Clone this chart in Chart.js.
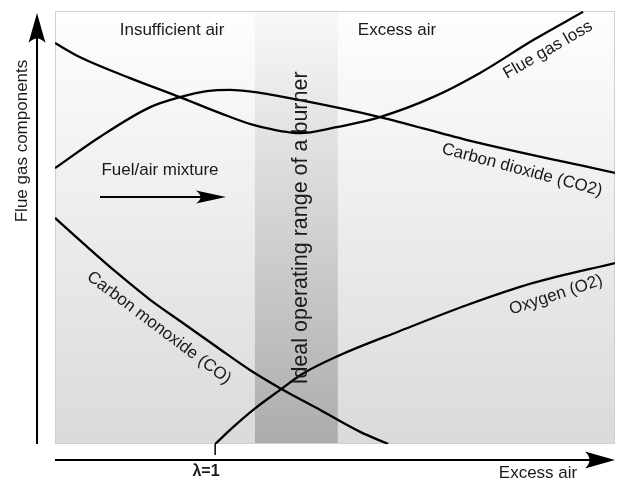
<!DOCTYPE html>
<html>
<head>
<meta charset="utf-8">
<script src="https://cdn.jsdelivr.net/npm/chart.js@4"></script>
<style>
  body { margin: 0; background: #fff; }
  canvas { display: block; }
</style>
</head>
<body>
<canvas id="flue-chart" width="622" height="482"></canvas>
<script>
// Flue gas components vs. excess air (schematic, 0-100 on both axes)
const flueLossX = [0, 4.5, 13.4, 22.3, 29.5, 35.4, 43.8, 49.6, 58, 67.5, 75.9, 85.4, 94.3];
const flueLossY = [92.6, 89.3, 84.5, 80.1, 76.4, 73.7, 71.8, 73.0, 75.5, 80.1, 85.7, 93.3, 99.8];

const co2X = [0, 8, 17, 22.3, 27.1, 31.3, 35.4, 43.8, 58, 73.6, 100];
const co2Y = [63.7, 70.9, 77.8, 80.1, 81.5, 81.8, 81.3, 79.4, 75.5, 70.2, 62.6];

const coX = [0, 5, 11.1, 17, 22.9, 28.9, 34.8, 40.2, 47.3, 54.5, 59.5];
const coY = [52.2, 46.4, 39.5, 33.3, 27.9, 22.4, 17.1, 12.9, 7.9, 2.8, 0];

const o2X = [28.6, 31.8, 35.4, 40.2, 43.8, 50.5, 61.6, 73.6, 85.4, 100];
const o2Y = [0, 3.9, 7.9, 12.5, 15.9, 20.3, 26.1, 32.1, 37.2, 41.8];

const seriesNames = ['Flue gas loss', 'Carbon dioxide (CO2)', 'Carbon monoxide (CO)', 'Oxygen (O2)'];

// ideal operating band and lambda = 1 position (x units)
const idealBand = [35.7, 50.5];
const lambdaOne = 28.6;

const FONT = '"Liberation Sans", Arial, Helvetica, sans-serif';

function toPoints(xs, ys) {
    return xs.map((x, i) => ({ x: x, y: ys[i] }));
}

function drawText(ctx, text, x, y, angle, size, bold) {
    ctx.save();
    ctx.translate(x, y);
    ctx.rotate(angle * Math.PI / 180);
    ctx.font = (bold ? 'bold ' : '') + size + 'px ' + FONT;
    ctx.fillStyle = '#1a1a1a';
    ctx.textAlign = 'center';
    ctx.textBaseline = 'middle';
    ctx.fillText(text, 0, 0);
    ctx.restore();
}

// arrow with a slightly concave head
function drawArrow(ctx, x1, y1, x2, y2, headLen, headHalf) {
    const a = Math.atan2(y2 - y1, x2 - x1);
    ctx.save();
    ctx.strokeStyle = '#000';
    ctx.fillStyle = '#000';
    ctx.lineWidth = 2;
    ctx.beginPath();
    ctx.moveTo(x1, y1);
    ctx.lineTo(x2 - Math.cos(a) * headLen * 0.7, y2 - Math.sin(a) * headLen * 0.7);
    ctx.stroke();
    ctx.translate(x2, y2);
    ctx.rotate(a);
    ctx.beginPath();
    ctx.moveTo(0, 0);
    ctx.lineTo(-headLen, -headHalf);
    ctx.quadraticCurveTo(-headLen * 0.7, 0, -headLen, headHalf);
    ctx.closePath();
    ctx.fill();
    ctx.restore();
}

const backdrop = {
    id: 'backdrop',
    beforeDatasetsDraw(chart) {
        const { ctx, chartArea: a, scales } = chart;
        ctx.save();
        let g = ctx.createLinearGradient(0, a.top, 0, a.bottom);
        g.addColorStop(0, '#fefefe');
        g.addColorStop(1, '#dadada');
        ctx.fillStyle = g;
        ctx.fillRect(a.left, a.top, a.right - a.left, a.bottom - a.top);

        const bx1 = scales.x.getPixelForValue(idealBand[0]);
        const bx2 = scales.x.getPixelForValue(idealBand[1]);
        g = ctx.createLinearGradient(0, a.top, 0, a.bottom);
        g.addColorStop(0, '#f8f8f8');
        g.addColorStop(1, '#acacac');
        ctx.fillStyle = g;
        ctx.fillRect(bx1, a.top, bx2 - bx1, a.bottom - a.top);

        ctx.strokeStyle = '#d0d0d0';
        ctx.lineWidth = 1;
        ctx.strokeRect(a.left + 0.5, a.top + 0.5, a.right - a.left - 1, a.bottom - a.top - 1);
        ctx.restore();
    },
    afterDraw(chart) {
        const { ctx, chartArea: a, scales } = chart;

        // axes arrows
        drawArrow(ctx, 37, a.bottom, 37, 13, 30, 8.5);
        drawArrow(ctx, a.left, 460, 615, 460, 30, 8.5);
        drawArrow(ctx, 100, 197, 226, 197, 30, 6.5);

        // lambda = 1 tick
        const lx = scales.x.getPixelForValue(lambdaOne);
        ctx.save();
        ctx.strokeStyle = '#000';
        ctx.lineWidth = 1.5;
        ctx.beginPath();
        ctx.moveTo(lx, a.bottom);
        ctx.lineTo(lx, 455);
        ctx.stroke();
        ctx.restore();

        drawText(ctx, 'Insufficient air', 172, 30, 0, 17);
        drawText(ctx, 'Excess air', 397, 30, 0, 17);
        drawText(ctx, 'Fuel/air mixture', 160, 170, 0, 17);
        drawText(ctx, seriesNames[0], 548, 50, -30, 17);
        drawText(ctx, seriesNames[1], 522, 170, 15, 17);
        drawText(ctx, seriesNames[2], 159, 328, 37, 17);
        drawText(ctx, seriesNames[3], 556, 295, -18, 17);
        drawText(ctx, 'Ideal operating range of a burner', 301, 228, -90, 21.5);
        drawText(ctx, 'Flue gas components', 22, 141, -90, 17);
        drawText(ctx, '\u03bb=1', 206, 472, 0, 16, true);
        drawText(ctx, 'Excess air', 538, 473, 0, 17);
    }
};

const lineStyle = {
    borderColor: '#000',
    borderWidth: 2.3,
    pointRadius: 0,
    fill: false,
    cubicInterpolationMode: 'monotone'
};

new Chart(document.getElementById('flue-chart').getContext('2d'), {
    type: 'line',
    data: {
        datasets: [
            Object.assign({ label: seriesNames[0], data: toPoints(flueLossX, flueLossY) }, lineStyle),
            Object.assign({ label: seriesNames[1], data: toPoints(co2X, co2Y) }, lineStyle),
            Object.assign({ label: seriesNames[2], data: toPoints(coX, coY) }, lineStyle),
            Object.assign({ label: seriesNames[3], data: toPoints(o2X, o2Y) }, lineStyle)
        ]
    },
    options: {
        responsive: false,
        animation: false,
        layout: { padding: { left: 55, right: 7, top: 11, bottom: 38 } },
        plugins: {
            legend: { display: false },
            tooltip: { enabled: false }
        },
        scales: {
            x: { type: 'linear', min: 0, max: 100, display: false },
            y: { type: 'linear', min: 0, max: 100, display: false }
        }
    },
    plugins: [backdrop]
});
</script>
</body>
</html>
